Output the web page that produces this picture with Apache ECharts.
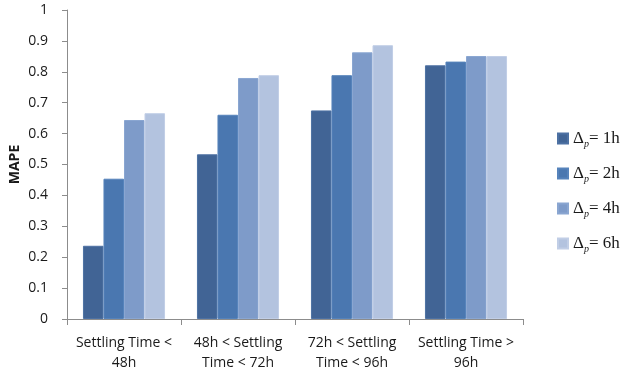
<!DOCTYPE html>
<html>
<head>
<meta charset="utf-8">
<script src="https://cdn.jsdelivr.net/npm/echarts@6/dist/echarts.min.js"></script>
<style>
  html, body { margin: 0; padding: 0; background: #fff; }
  #chart { width: 620px; height: 376px; }
</style>
</head>
<body>
<div id="chart"></div>
<script>
// Settling-time buckets along the x axis
const categories = [
  'Settling Time <\n48h',
  '48h < Settling\nTime < 72h',
  '72h < Settling\nTime < 96h',
  'Settling Time >\n96h'
];

// MAPE per prediction horizon
const seriesNames = ['1h', '2h', '4h', '6h'];
const mape1h = [0.237, 0.533, 0.675, 0.821];
const mape2h = [0.454, 0.661, 0.789, 0.833];
const mape4h = [0.644, 0.780, 0.863, 0.851];
const mape6h = [0.666, 0.789, 0.886, 0.851];
const seriesValues = [mape1h, mape2h, mape4h, mape6h];

const colors = ['#416495', '#4a77b0', '#7e9bc9', '#b3c3df'];
const edgeColors = ['#4d71a3', '#5683bb', '#8aa6d1', '#c1cee6'];

const chart = echarts.init(document.getElementById('chart'), null, { renderer: 'canvas' });

const legendName = h => 'Δ{s|p}= ' + h;

chart.setOption({
  animation: false,
  backgroundColor: '#ffffff',
  grid: { left: 67, right: 97, top: 10, bottom: 57, containLabel: false, outerBoundsMode: 'none' },
  legend: {
    orient: 'vertical',
    left: 552,
    top: 123,
    itemWidth: 10,
    itemHeight: 10,
    itemGap: 14,
    icon: 'rect',
    data: seriesNames.map(h => ({ name: h })),
    formatter: name => legendName(name),
    textStyle: {
      fontFamily: 'Liberation Serif',
      fontSize: 17,
      color: '#1a1a1a',
      lineHeight: 21,
      rich: {
        s: { fontFamily: 'Liberation Serif', fontSize: 10, fontStyle: 'italic', verticalAlign: 'bottom', padding: [8, 0, 0, 0], color: '#1a1a1a' }
      }
    }
  },
  xAxis: {
    type: 'category',
    data: categories,
    axisLine: { lineStyle: { color: '#8c8c8c', width: 1 } },
    axisTick: { show: true, alignWithLabel: false, length: 6, lineStyle: { color: '#8c8c8c' } },
    axisLabel: {
      interval: 0,
      margin: 14,
      fontFamily: 'Open Sans',
      fontSize: 14,
      lineHeight: 20,
      color: '#1a1a1a'
    }
  },
  yAxis: {
    type: 'value',
    min: 0,
    max: 1,
    interval: 0.1,
    name: 'MAPE',
    nameLocation: 'middle',
    nameGap: 45,
    nameMoveOverlap: false,
    nameTextStyle: { fontFamily: 'Open Sans', fontSize: 14, fontWeight: 'bold', color: '#1a1a1a' },
    axisLine: { show: true, lineStyle: { color: '#8c8c8c', width: 1 } },
    axisTick: { show: true, length: 5, lineStyle: { color: '#8c8c8c' } },
    splitLine: { show: false },
    axisLabel: {
      margin: 19,
      fontFamily: 'Open Sans',
      fontSize: 14,
      color: '#1a1a1a',
      formatter: v => String(Math.round(v * 10) / 10)
    }
  },
  series: seriesValues.map((vals, i) => ({
    name: seriesNames[i],
    type: 'bar',
    data: vals,
    barGap: '0%',
    barCategoryGap: '28%',
    itemStyle: { color: colors[i], borderColor: edgeColors[i], borderWidth: 1 }
  }))
});
</script>
</body>
</html>
